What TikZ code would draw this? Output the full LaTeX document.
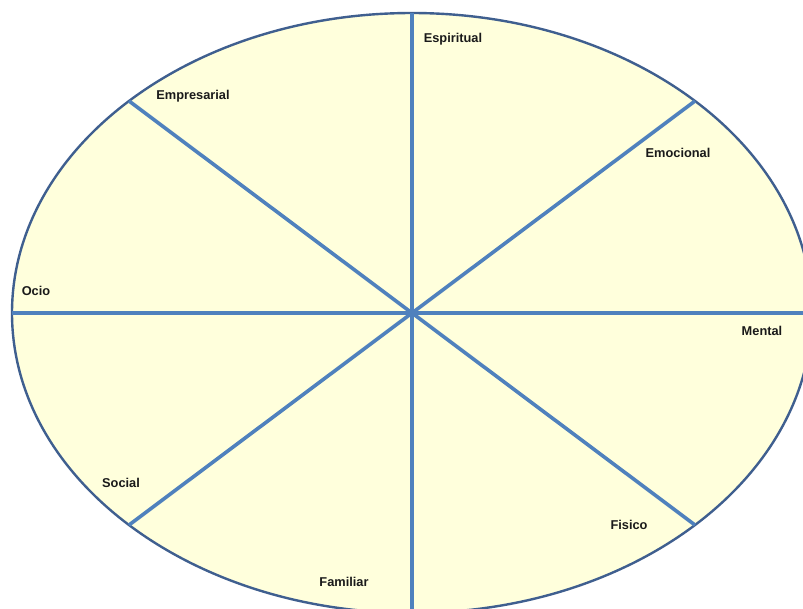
\documentclass[tikz,border=0pt]{standalone}
\usepackage{fontspec}
\setmainfont{Liberation Sans}
\usepackage{tikz}
\usetikzlibrary{positioning,calc}
\definecolor{rim}{HTML}{3F5F8F}
\definecolor{spoke}{HTML}{4F81BD}
\definecolor{paleyellow}{HTML}{FFFFDC}
\definecolor{ink}{HTML}{1A1A1A}
\tikzset{
  wheel/.style={draw=rim,fill=paleyellow,line width=2.4pt},
  spokeline/.style={draw=spoke,line width=3.6pt},
  area/.style={font=\bfseries\fontsize{12.8}{14}\selectfont,text=ink,inner sep=0pt},
}

\begin{document}
\begin{tikzpicture}[x=1pt,y=-1pt]
  \clip (0,0) rectangle (803,608);
  \fill[white] (0,0) rectangle (803,608);

  \coordinate (c) at (412,313);
  \draw[wheel] (c) ellipse [x radius=400pt,y radius=300pt];

  % rim points of the eight spokes
  \coordinate (n)  at (412,13);
  \coordinate (s)  at (412,613);
  \coordinate (w)  at (12,313);
  \coordinate (e)  at (812,313);
  \coordinate (ne) at ($(c)+(283,-212)$);
  \coordinate (nw) at ($(c)+(-283,-212)$);
  \coordinate (se) at ($(c)+(283,212)$);
  \coordinate (sw) at ($(c)+(-283,212)$);

  \draw[spokeline] (n) -- (s);
  \draw[spokeline] (w) -- (e);
  \draw[spokeline] (nw) -- (se);
  \draw[spokeline] (sw) -- (ne);

  \node[area] (espiritual)  at (453,39)  {Espiritual};
  \node[area] (empresarial) at (193,96)  {Empresarial};
  \node[area] (emocional)   at (678,153) {Emocional};
  \node[area] (ocio)        at (36,291)  {Ocio};
  \node[area] (mental)      at (762,331) {Mental};
  \node[area] (social)      at (121,483) {Social};
  \node[area] (fisico)      at (629,525) {Fisico};
  \node[area] (familiar)    at (344,582) {Familiar};
\end{tikzpicture}
\end{document}
